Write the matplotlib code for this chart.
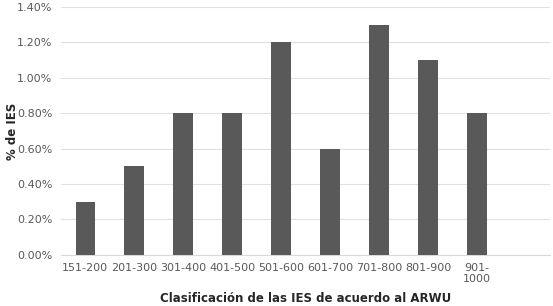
import matplotlib
matplotlib.use("Agg")
import matplotlib.pyplot as plt
from matplotlib.ticker import FuncFormatter

categories = ["151-200", "201-300", "301-400", "401-500", "501-600", "601-700",
              "701-800", "801-900", "901-\n1000", ""]
values = [0.3, 0.5, 0.8, 0.8, 1.2, 0.6, 1.3, 1.1, 0.8, 0.0]
yticks = [0.0, 0.2, 0.4, 0.6, 0.8, 1.0, 1.2, 1.4]

plt.rcParams['font.family'] = ['DejaVu Sans']
fig = plt.figure(figsize=(5.53, 3.06), dpi=100)
ax = fig.add_axes([0.110, 0.167, 0.885, 0.810])

x = list(range(len(categories)))
ax.bar(x, values, width=0.4, color="#595959", zorder=3)
ax.set_xlim(-0.5, len(categories) - 0.5)
ax.set_ylim(0, 1.4)
ax.set_yticks(yticks)
ax.yaxis.set_major_formatter(FuncFormatter(lambda v, p: f"{v:.2f}%"))
ax.set_xticks(x)
ax.set_xticklabels(categories, fontsize=8, color="#595959", linespacing=1.1)
ax.tick_params(axis='y', labelsize=8, labelcolor="#595959", length=0, pad=6)
ax.tick_params(axis='x', length=0, pad=6)
ax.grid(axis='y', color="#e0e0e0", linewidth=0.8, zorder=0)
for s in ["top", "right", "left"]:
    ax.spines[s].set_visible(False)
ax.spines["bottom"].set_color("#d9d9d9")
ax.set_ylabel("% de IES", fontsize=8.5, fontweight="bold", color="#262626")
ax.set_xlabel("Clasificación de las IES de acuerdo al ARWU", fontsize=8.5,
              fontweight="bold", color="#262626")
ax.yaxis.set_label_coords(-0.086, 0.5)
ax.xaxis.set_label_coords(0.5, -0.150)
fig.savefig("out.png", dpi=100)
